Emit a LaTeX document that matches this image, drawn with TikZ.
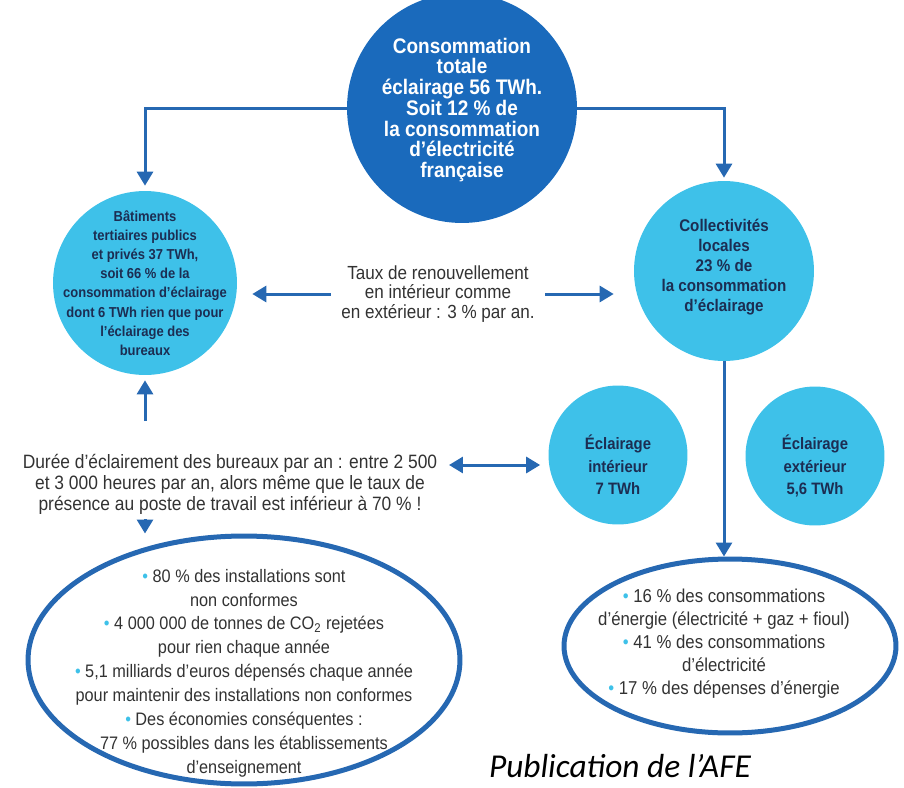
\documentclass[tikz,border=0pt]{standalone}
\usepackage{fontspec}
\setmainfont{Liberation Sans}[FakeStretch=0.9]
\newfontfamily\pubfont{Carlito}
\usetikzlibrary{arrows.meta,positioning,shapes.geometric}
\definecolor{darkblue}{RGB}{26,106,188}
\definecolor{lightblue}{RGB}{62,193,233}
\definecolor{arrowblue}{RGB}{38,104,178}
\definecolor{navytext}{RGB}{28,45,82}
\definecolor{greytext}{RGB}{50,50,50}
\newcommand{\puce}{{\color{lightblue}\textbullet}~}

\begin{document}
\begin{tikzpicture}[x=0.02cm,y=-0.02cm,
  disc/.style={circle, fill=lightblue, inner sep=0pt},
  oval/.style={ellipse, draw=arrowblue, line width=0.1cm, inner sep=0pt},
  arr/.style={draw=arrowblue, line width=0.06cm, -{Triangle[width=0.32cm,length=0.28cm]}},
  intext/.style={align=center, text=navytext, font=\bfseries},
  note/.style={align=center, text=greytext}]
\useasboundingbox (0,0) rectangle (904,788);
\begin{scope}
\clip (0,0) rectangle (904,788);
% cercles
\node[disc, fill=darkblue, minimum size=4.6cm] (total) at (462,108) {};
\node[intext, text=white, font=\bfseries\fontsize{12}{11.8}\selectfont] (total-txt) at (462,110) {Consommation\\totale\\éclairage 56 TWh.\\Soit 12 \% de\\la consommation\\d'électricité\\française};
\node[disc, minimum size=3.68cm] (tertiaire) at (145,283) {};
\node[intext, font=\bfseries\fontsize{8.2}{10.9}\selectfont] (tertiaire-txt) at (tertiaire) {Bâtiments\\tertiaires publics\\et privés 37 TWh,\\soit 66 \% de la\\consommation d'éclairage\\dont 6 TWh rien que pour\\l'éclairage des\\bureaux};
\node[disc, minimum size=3.6cm] (collect) at (724,271) {};
\node[intext, font=\bfseries\fontsize{9.6}{11.4}\selectfont] (collect-txt) at (724,267) {Collectivités\\locales\\23 \% de\\la consommation\\d'éclairage};
\node[disc, minimum size=2.78cm] (interieur) at (618,455) {};
\node[intext, font=\bfseries\fontsize{9.4}{12.8}\selectfont] (interieur-txt) at (618,465) {Éclairage\\intérieur\\7 TWh};
\node[disc, minimum size=2.78cm] (exterieur) at (815,456) {};
\node[intext, font=\bfseries\fontsize{9.4}{12.8}\selectfont] (exterieur-txt) at (815,466) {Éclairage\\extérieur\\5,6 TWh};
% ellipses
\node[oval, minimum width=8.64cm, minimum height=4.96cm] (bilan) at (244,660) {};
\node[note, font=\fontsize{10.3}{13.6}\selectfont] (bilan-txt) at (244,673) {\puce 80 \% des installations sont\\non conformes\\\puce 4 000 000 de tonnes de CO\textsubscript{2} rejetées\\pour rien chaque année\\\puce 5,1 milliards d'euros dépensés chaque année\\pour maintenir des installations non conformes\\\puce Des économies conséquentes :\\77 \% possibles dans les établissements\\d'enseignement};
\node[oval, minimum width=6.64cm, minimum height=3.48cm] (energie) at (730,646) {};
\node[note, font=\fontsize{10.6}{13.1}\selectfont] (energie-txt) at (724,644) {\puce 16 \% des consommations\\d’énergie (électricité + gaz + fioul)\\\puce 41 \% des consommations\\d’électricité\\\puce 17 \% des dépenses d’énergie};
\end{scope}
% textes libres
\node[note, font=\fontsize{10.8}{11.3}\selectfont, inner xsep=0.2cm] (renouv) at (438,294) {Taux de renouvellement\\en intérieur comme\\en extérieur : 3 \% par an.};
\node[note, font=\fontsize{11}{12}\selectfont] (duree) at (230,484) {Durée d'éclairement des bureaux par an : entre 2 500\\et 3 000 heures par an, alors même que le taux de\\présence au poste de travail est inférieur à 70 \% !};
\node[font=\pubfont\itshape\fontsize{19}{20}\selectfont, anchor=base] (pub) at (620,777) {Publication de l’AFE};
\coordinate (duree-haut) at (145,421);
\coordinate (duree-bas) at (145,519);
\coordinate (duree-droite) at (449,465);
% fleches
\draw[arr, shorten >=0.1cm] (total.west) -| (tertiaire.north);
\draw[arr, shorten >=0.06cm] (total.east) -| (collect.north);
\draw[arr, shorten >=0.3cm] (renouv.west) -- (renouv.west -| tertiaire.east);
\draw[arr, shorten >=0.4cm] (renouv.east) -- (renouv.east -| collect.west);
\draw[arr, shorten >=0.1cm] (duree-haut) -- (duree-haut |- tertiaire.south);
\draw[arr] (duree-bas) -- (duree-bas |- bilan.north);
\draw[arr, {Triangle[width=0.32cm,length=0.28cm]}-{Triangle[width=0.32cm,length=0.28cm]}, shorten >=0.16cm] (duree-droite) -- (duree-droite -| interieur.west);
\draw[arr] (collect.south) -- (collect.south |- energie.north);
\end{tikzpicture}
\end{document}
